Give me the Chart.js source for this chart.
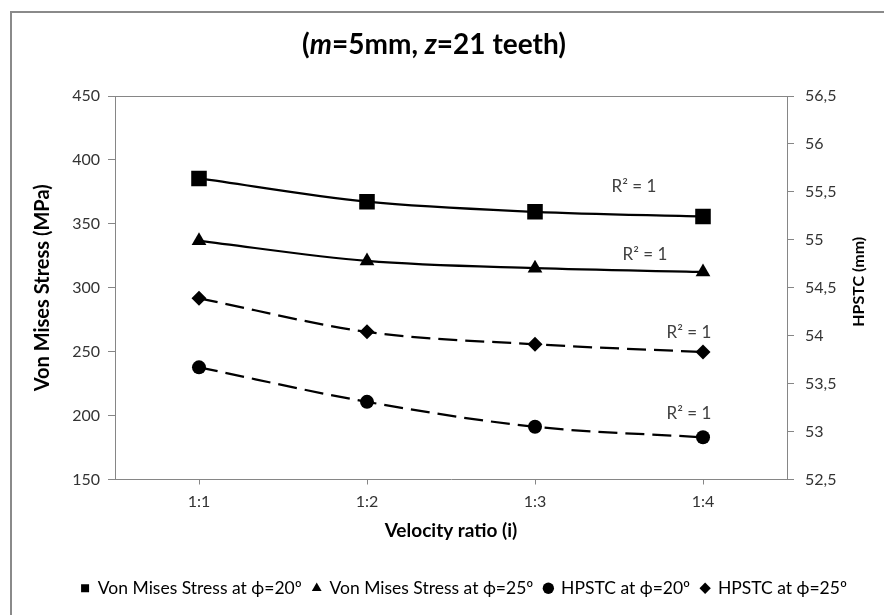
<!DOCTYPE html>
<html>
<head>
<meta charset="utf-8">
<script src="https://cdn.jsdelivr.net/npm/chart.js@4.4.1/dist/chart.umd.min.js"></script>
<style>
html, body { margin: 0; padding: 0; background: #fff; overflow: hidden; }
#wrap { position: relative; width: 884px; height: 615px; overflow: hidden; }
#box { position: absolute; left: 0; top: 0; width: 928px; height: 630px; }
#frame { position: absolute; left: 10px; top: 11px; width: 1000px; height: 1000px;
  border-top: 2px solid #8a8a8a; border-left: 2px solid #8a8a8a; pointer-events: none; }
</style>
</head>
<body>
<div id="wrap">
  <div id="box"><canvas id="chart"></canvas></div>
  <div id="frame"></div>
</div>
<script>
// data
const ratios = ['1:1', '1:2', '1:3', '1:4'];
const vmStress20 = [385.5, 367.3, 359.4, 355.7];
const vmStress25 = [336.7, 321.0, 315.3, 312.4];
const hpstc20 = [53.67, 53.31, 53.05, 52.94];
const hpstc25 = [54.39, 54.04, 53.91, 53.83];
const stressTicks = [150, 200, 250, 300, 350, 400, 450];
const hpstcTicks = [52.5, 53, 53.5, 54, 54.5, 55, 55.5, 56, 56.5];

const FONT = 'Lato';
const GREY = '#868686';
// where each "R² = 1" label sits relative to the last point
const r2Offsets = [[-69, -30], [-58, -17], [-14, -24], [-14, -19]];

const extras = {
  id: 'extras',
  afterLayout(chart) {
    // excel centres the legend on the whole chart box, nudge it over
    chart.legend.left += 13;
    chart.legend.right += 13;
  },
  afterDraw(chart) {
    const ctx = chart.ctx;
    const area = chart.chartArea;
    ctx.save();

    // top border of plot area
    ctx.strokeStyle = GREY;
    ctx.lineWidth = 1;
    ctx.beginPath();
    ctx.moveTo(area.left, Math.round(area.top) + 0.5);
    ctx.lineTo(area.right, Math.round(area.top) + 0.5);
    ctx.stroke();

    // trendline labels
    ctx.font = '17px ' + FONT;
    ctx.fillStyle = '#404040';
    ctx.textAlign = 'center';
    ctx.textBaseline = 'middle';
    chart.data.datasets.forEach((ds, i) => {
      const pts = chart.getDatasetMeta(i).data;
      const p = pts[pts.length - 1];
      ctx.fillText('R² = 1', p.x + r2Offsets[i][0], p.y + r2Offsets[i][1]);
    });

    // chart title with italic symbols
    const parts = [['(', false], ['m', true], ['=5mm, ', false], ['z', true], ['=21 teeth)', false]];
    const fontFor = it => (it ? 'italic ' : '') + 'bold 28px ' + FONT;
    let total = 0;
    parts.forEach(p => { ctx.font = fontFor(p[1]); total += ctx.measureText(p[0]).width; });
    let x = 434 - total / 2;
    ctx.fillStyle = '#000';
    ctx.textAlign = 'left';
    parts.forEach(p => {
      ctx.font = fontFor(p[1]);
      ctx.fillText(p[0], x, 45);
      x += ctx.measureText(p[0]).width;
    });

    // right axis title, reads bottom to top like the left one
    ctx.translate(859, (area.top + area.bottom) / 2 - 6);
    ctx.rotate(-Math.PI / 2);
    ctx.textAlign = 'center';
    ctx.font = 'bold 16px ' + FONT;
    ctx.fillText('HPSTC (mm)', 0, 0);
    ctx.restore();
  }
};

const lineBase = {
  borderColor: '#000',
  backgroundColor: '#000',
  pointBackgroundColor: '#000',
  pointBorderWidth: 0,
  borderWidth: 2.25,
  cubicInterpolationMode: 'monotone',
  tension: 0.4
};

new Chart(document.getElementById('chart'), {
  type: 'line',
  data: {
    labels: ratios,
    datasets: [
      { ...lineBase, label: 'Von Mises Stress at ϕ=20º', data: vmStress20, yAxisID: 'y',
        pointStyle: 'rect', pointRadius: 11 },
      { ...lineBase, label: 'Von Mises Stress at ϕ=25º', data: vmStress25, yAxisID: 'y',
        pointStyle: 'triangle', pointRadius: 8.5 },
      { ...lineBase, label: 'HPSTC at ϕ=20º', data: hpstc20, yAxisID: 'y1',
        pointStyle: 'circle', pointRadius: 7, borderDash: [19, 8] },
      { ...lineBase, label: 'HPSTC at ϕ=25º', data: hpstc25, yAxisID: 'y1',
        pointStyle: 'rectRot', pointRadius: 7.5, borderDash: [19, 8] }
    ]
  },
  options: {
    responsive: true,
    maintainAspectRatio: false,
    animation: false,
    layout: { padding: { top: 96, left: 27, right: 53, bottom: 23 } },
    plugins: {
      title: { display: false },
      tooltip: { enabled: false },
      legend: {
        position: 'bottom',
        labels: {
          usePointStyle: true,
          boxWidth: 8,
          boxHeight: 8,
          padding: 11,
          color: '#000',
          font: { family: FONT, size: 17.5 }
        }
      }
    },
    scales: {
      x: {
        offset: true,
        grid: { drawOnChartArea: false, offset: false, tickLength: 5, color: GREY },
        border: { color: GREY },
        ticks: { color: '#333', padding: 8, font: { family: FONT, size: 16 } },
        title: { display: true, text: 'Velocity ratio (i)', color: '#000',
          font: { family: FONT, size: 19, weight: 'bold' }, padding: { top: 4, bottom: 26 } },
        afterFit: s => { s.height = 89; }
      },
      y: {
        position: 'left',
        min: stressTicks[0],
        max: stressTicks[stressTicks.length - 1],
        afterBuildTicks: s => { s.ticks = stressTicks.map(v => ({ value: v })); },
        grid: { drawOnChartArea: false, tickLength: 7, color: GREY },
        border: { color: GREY },
        ticks: { color: '#333', padding: 8, font: { family: FONT, size: 16 } },
        title: { display: true, text: 'Von Mises Stress (MPa)', color: '#000',
          font: { family: FONT, size: 20, weight: 'bold' } },
        afterFit: s => { s.width = 88; }
      },
      y1: {
        position: 'right',
        min: hpstcTicks[0],
        max: hpstcTicks[hpstcTicks.length - 1],
        afterBuildTicks: s => { s.ticks = hpstcTicks.map(v => ({ value: v })); },
        grid: { drawOnChartArea: false, tickLength: 7, color: GREY },
        border: { color: GREY },
        ticks: { color: '#333', padding: 11, font: { family: FONT, size: 16 },
          callback: v => String(v).replace('.', ',') },
        afterFit: s => { s.width = 88; }
      }
    }
  },
  plugins: [extras]
});
</script>
</body>
</html>
